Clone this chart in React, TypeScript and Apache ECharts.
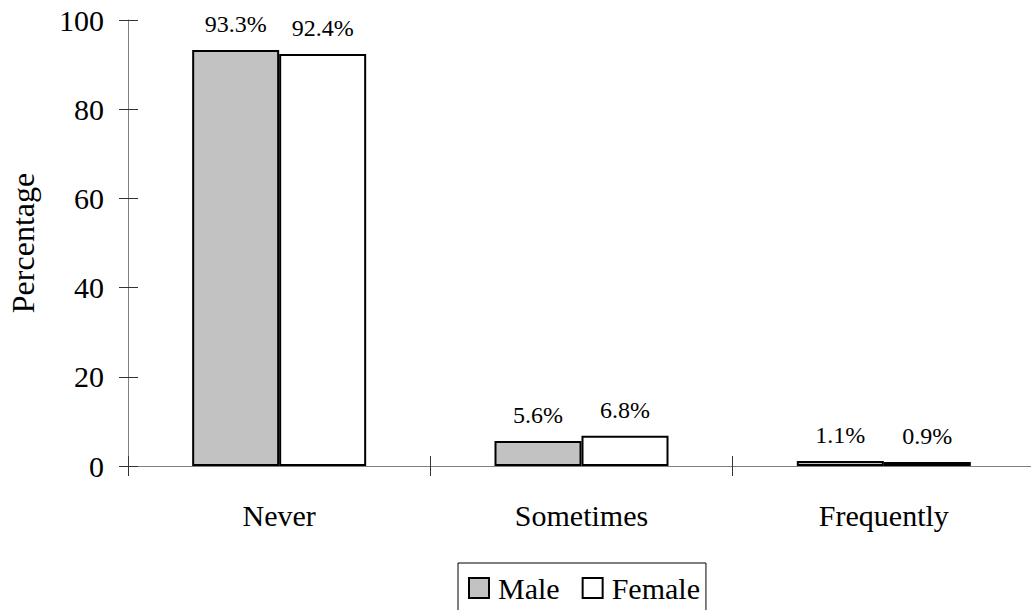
import React, { useEffect, useRef } from "react";
import * as echarts from "echarts";

// Frequency categories and percentages by sex
const categories = ["Never", "Sometimes", "Frequently"];
const maleValues = [93.3, 5.6, 1.1];
const femaleValues = [92.4, 6.8, 0.9];
const yTicks = { min: 0, max: 100, interval: 20 };

const FONT = "Liberation Serif";

export default function App() {
  const ref = useRef<HTMLDivElement>(null);

  useEffect(() => {
    if (!ref.current) return;
    const chart = echarts.init(ref.current, undefined, { renderer: "svg" });

    const makeLabel = () => ({
      show: true,
      position: "top" as const,
      distance: 14,
      color: "#000",
      fontFamily: FONT,
      fontSize: 24,
      formatter: (p: any) => `${p.value}%`,
    });

    chart.setOption({
      animation: false,
      backgroundColor: "#fff",
      textStyle: { fontFamily: FONT, color: "#000" },
      grid: {
        left: 128,
        top: 20,
        height: 446,
        width: 907,
        containLabel: false,
        outerBoundsMode: "none",
      },
      legend: {
        data: ["Male", "Female"],
        left: 458,
        top: 563,
        icon: "rect",
        itemWidth: 20,
        itemHeight: 20,
        itemGap: 22,
        borderColor: "#000",
        borderWidth: 1,
        borderRadius: 0,
        padding: [10, 6, 40, 10],
        textStyle: { fontFamily: FONT, fontSize: 30, color: "#000", padding: [0, 0, 0, 4] },
      },
      xAxis: [
        {
          type: "category",
          data: categories,
          boundaryGap: true,
          axisLine: { show: true, lineStyle: { color: "#808080", width: 1 } },
          axisTick: { show: true, inside: false, length: 10, lineStyle: { color: "#333" } },
          axisLabel: { margin: 34, fontFamily: FONT, fontSize: 30, color: "#000" },
          splitLine: { show: false },
        },
        {
          type: "category",
          data: categories,
          position: "bottom",
          boundaryGap: true,
          axisLine: { show: false },
          axisTick: { show: true, inside: true, length: 10, lineStyle: { color: "#333" } },
          axisLabel: { show: false },
          splitLine: { show: false },
        },
      ],
      yAxis: [
        {
          type: "value",
          ...yTicks,
          name: "Percentage",
          nameLocation: "middle",
          nameRotate: 90,
          nameGap: 89,
          nameTextStyle: { fontFamily: FONT, fontSize: 32, color: "#000" },
          axisLine: { show: true, lineStyle: { color: "#808080", width: 1 } },
          axisTick: { show: true, inside: false, length: 9, lineStyle: { color: "#333" } },
          axisLabel: { margin: 24, fontFamily: FONT, fontSize: 30, color: "#000" },
          splitLine: { show: false },
        },
        {
          type: "value",
          ...yTicks,
          position: "left",
          axisLine: { show: false },
          axisTick: { show: true, inside: true, length: 10, lineStyle: { color: "#333" } },
          axisLabel: { show: false },
          splitLine: { show: false },
        },
      ],
      series: [
        {
          name: "Male",
          type: "bar",
          data: maleValues,
          barWidth: 87,
          barGap: "0%",
          itemStyle: { color: "#c2c2c2", borderColor: "#000", borderWidth: 2 },
          label: makeLabel(),
        },
        {
          name: "Female",
          type: "bar",
          data: femaleValues,
          barWidth: 87,
          barGap: "0%",
          itemStyle: { color: "#fff", borderColor: "#000", borderWidth: 2 },
          label: makeLabel(),
        },
      ],
    });

    return () => chart.dispose();
  }, []);

  return (
    <div
      ref={ref}
      style={{ position: "fixed", left: 0, top: 0, width: 1031, height: 610, background: "#fff" }}
    />
  );
}
